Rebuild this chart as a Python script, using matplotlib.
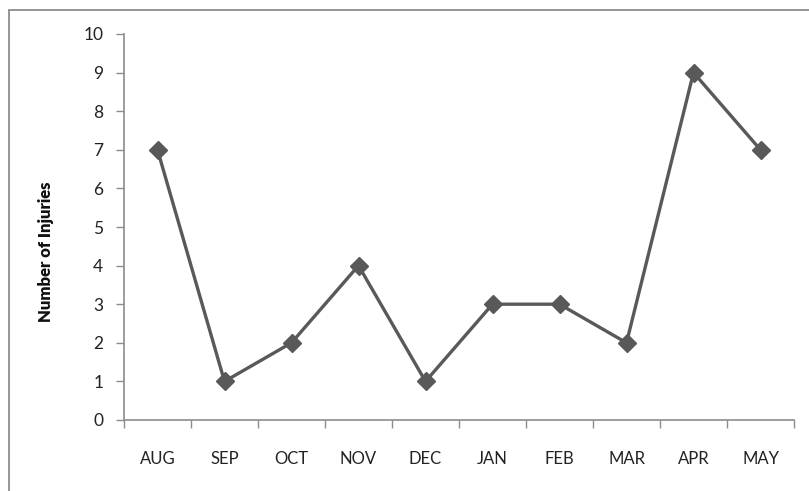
import matplotlib
matplotlib.use("Agg")
import matplotlib.pyplot as plt
from matplotlib.patches import Rectangle
from matplotlib.ticker import FixedLocator

months = ["AUG", "SEP", "OCT", "NOV", "DEC", "JAN", "FEB", "MAR", "APR", "MAY"]
injuries = [7, 1, 2, 4, 1, 3, 3, 2, 9, 7]
yticks = list(range(0, 11))

plt.rcParams['font.family'] = ['Lato', 'DejaVu Sans']

W, H = 809, 491
fig = plt.figure(figsize=(W/100, H/100), dpi=100)
fig.patch.set_facecolor('white')

# outer chart border (left and top visible)
fig.patches.append(Rectangle((9/W, -0.1), 1.2, (H-10)/H + 0.1, transform=fig.transFigure,
                             fill=False, edgecolor='#8c8c8c', linewidth=1.3))

ax = fig.add_axes([124/W, 1-420/H, (794-124)/W, (420-34)/H])
x = list(range(len(months)))
ax.plot(x, injuries, color='#595959', linewidth=2.4, marker='D', markersize=9,
        markerfacecolor='#595959', markeredgecolor='#595959')

ax.set_xlim(-0.5, len(months)-0.5)
ax.set_ylim(0, 10)
ax.set_yticks(yticks)
ax.set_yticklabels([str(v) for v in yticks])

ax.set_xticks(x)
ax.set_xticklabels(months)
ax.xaxis.set_minor_locator(FixedLocator([i - 0.5 for i in range(len(months)+1)]))
ax.tick_params(axis='x', which='major', length=0, pad=22, labelsize=12, labelcolor='#222222')
ax.tick_params(axis='x', which='minor', length=6, width=1, color='#8c8c8c', direction='out')
ax.tick_params(axis='y', length=6, width=1, color='#8c8c8c', direction='out', pad=9,
               labelsize=12.5, labelcolor='#222222')

for s in ['top', 'right']:
    ax.spines[s].set_visible(False)
for s in ['left', 'bottom']:
    ax.spines[s].set_color('#8c8c8c')
    ax.spines[s].set_linewidth(1.2)

ax.set_ylabel("Number of Injuries", fontsize=12, fontweight='heavy', color='#111111')
ax.yaxis.set_label_coords(-0.104, 0.435)

fig.savefig("out.png", dpi=100, facecolor='white')
